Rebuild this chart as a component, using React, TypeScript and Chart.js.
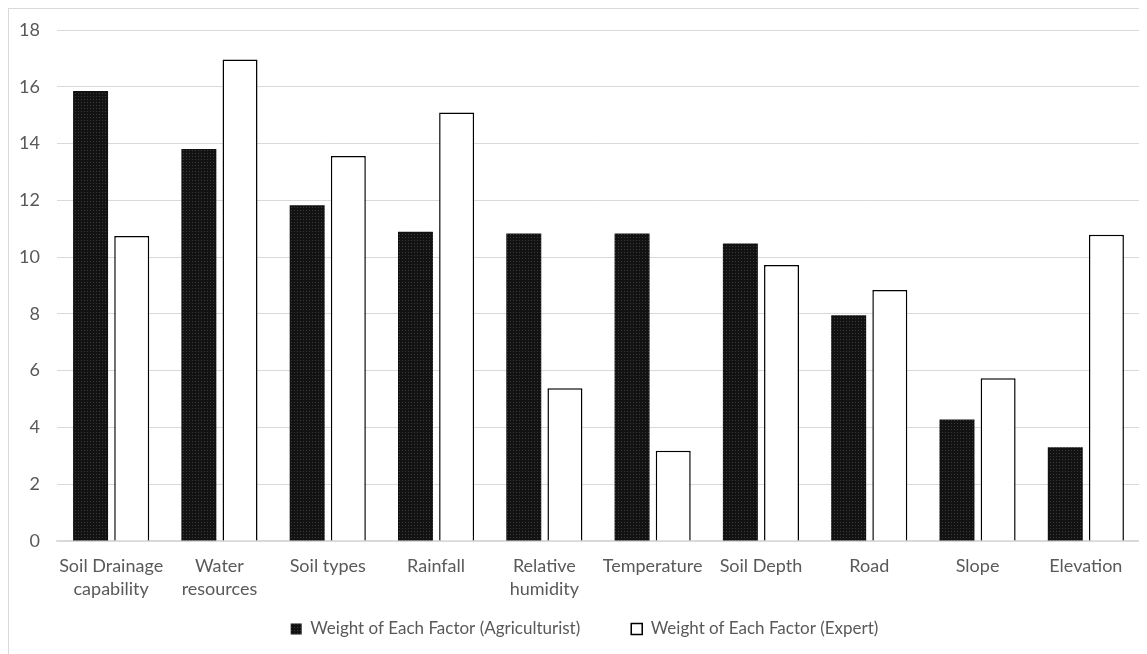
import React, { useEffect, useRef } from "react";
import { Chart, registerables } from "chart.js";

Chart.register(...registerables);

const categories: (string | string[])[] = [
  ["Soil Drainage", "capability"],
  ["Water", "resources"],
  "Soil types",
  "Rainfall",
  ["Relative", "humidity"],
  "Temperature",
  "Soil Depth",
  "Road",
  "Slope",
  "Elevation",
];

const agriculturist = [15.85, 13.81, 11.83, 10.89, 10.83, 10.83, 10.48, 7.95, 4.28, 3.3];
const expert = [10.74, 16.96, 13.56, 15.09, 5.38, 3.18, 9.72, 8.84, 5.73, 10.79];

const seriesLabels = [
  "Weight of Each Factor (Agriculturist)",
  "Weight of Each Factor (Expert)",
];

const yMin = 0;
const yMax = 18;
const yStep = 2;

const FONT = "Lato";
const FONT_SIZE = 18;
const LEGEND_FONT_SIZE = 17;
const TEXT_COLOR = "#595959";
const GRID_COLOR = "#d9d9d9";

function makePattern(): CanvasPattern | string {
  const c = document.createElement("canvas");
  c.width = 3;
  c.height = 3;
  const x = c.getContext("2d");
  if (!x) return "#141414";
  x.fillStyle = "#121212";
  x.fillRect(0, 0, 3, 3);
  x.fillStyle = "#3a3a3a";
  x.fillRect(0, 0, 1, 1);
  return x.createPattern(c, "repeat") || "#141414";
}

export default function App() {
  const ref = useRef<HTMLCanvasElement | null>(null);

  useEffect(() => {
    document.documentElement.style.overflow = "hidden";
    document.body.style.overflow = "hidden";
    if (!ref.current) return;
    const pattern = makePattern();
    const chart = new Chart(ref.current, {
      type: "bar",
      data: {
        labels: categories,
        datasets: [
          {
            label: seriesLabels[0],
            data: agriculturist,
            backgroundColor: pattern as any,
            borderWidth: 0,
            categoryPercentage: 0.76,
            barPercentage: 0.85,
          },
          {
            label: seriesLabels[1],
            data: expert,
            backgroundColor: "#ffffff",
            borderColor: "#000000",
            borderWidth: 1.5,
            categoryPercentage: 0.76,
            barPercentage: 0.85,
          },
        ],
      },
      options: {
        animation: false,
        responsive: false,
        devicePixelRatio: 1,
        layout: { padding: { top: 21, left: 20, right: 7, bottom: 6.5 } },
        font: { family: FONT, size: FONT_SIZE },
        plugins: {
          tooltip: { enabled: false },
          legend: {
            position: "bottom",
            labels: {
              color: TEXT_COLOR,
              font: { family: FONT, size: LEGEND_FONT_SIZE },
              boxWidth: 11,
              boxHeight: 11,
              padding: 51,
            },
          },
        },
        scales: {
          x: {
            grid: { display: false, drawTicks: false },
            border: { display: true, color: GRID_COLOR, width: 1.5 },
            ticks: {
              color: TEXT_COLOR,
              font: { family: FONT, size: FONT_SIZE, lineHeight: 23 / FONT_SIZE },
              padding: 13.5,
              autoSkip: false,
              maxRotation: 0,
              minRotation: 0,
            },
            afterFit: (scale: any) => {
              scale.height = 28.5;
              scale._computeLabelArea = () => undefined;
            },
          },
          y: {
            min: yMin,
            max: yMax,
            grid: { color: GRID_COLOR, lineWidth: 1, drawTicks: false },
            border: { display: false },
            ticks: {
              stepSize: yStep,
              color: TEXT_COLOR,
              font: { family: FONT, size: FONT_SIZE },
              padding: 17,
            },
            afterFit: (scale: any) => {
              scale.width = 28;
              scale.paddingTop = 0;
              scale.paddingBottom = 0;
              scale._computeLabelArea = () => undefined;
            },
          },
        },
      },
    });
    return () => chart.destroy();
  }, []);

  return (
    <div
      style={{
        width: 1139,
        height: 646,
        boxSizing: "border-box",
        borderTop: `1px solid ${GRID_COLOR}`,
        borderLeft: `1px solid ${GRID_COLOR}`,
        overflow: "hidden",
        background: "#ffffff",
      }}
    >
      <canvas ref={ref} width={1138} height={645} style={{ display: "block" }} />
    </div>
  );
}
